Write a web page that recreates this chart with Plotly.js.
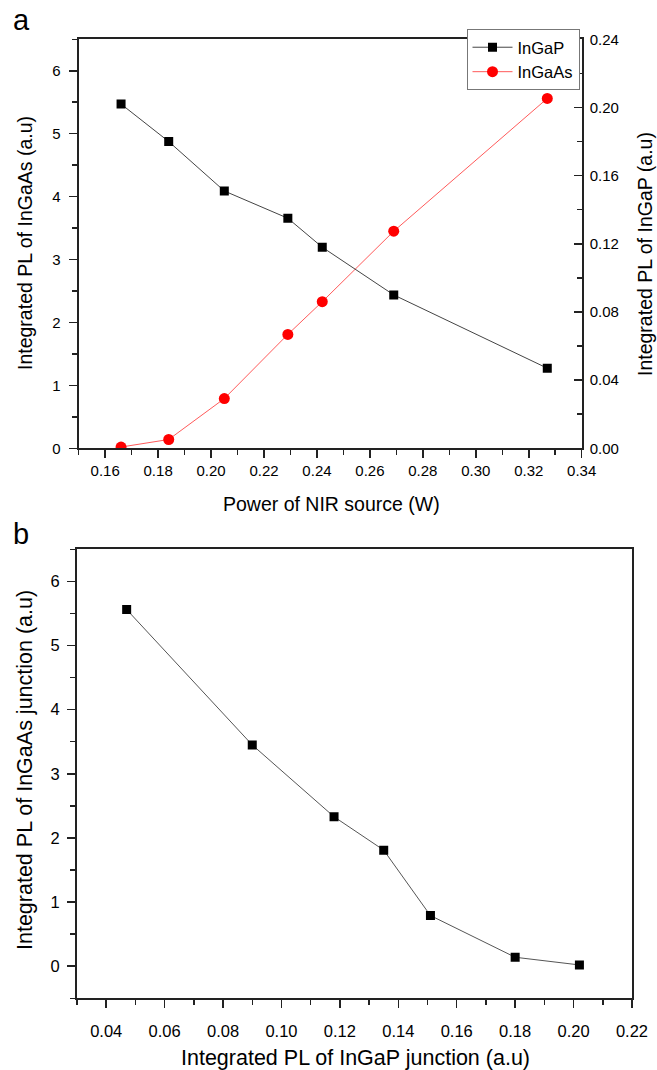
<!DOCTYPE html>
<html>
<head>
<meta charset="utf-8">
<script src="https://cdn.plot.ly/plotly-3.0.1.min.js"></script>
<style>
  html, body { margin: 0; padding: 0; background: #fff; }
  #chart { width: 657px; height: 1070px; }
</style>
</head>
<body>
<div id="chart"></div>
<script>
// Data
const power = [0.166, 0.184, 0.205, 0.229, 0.242, 0.269, 0.327];   // Power of NIR source (W)
const plInGaP = [0.202, 0.180, 0.151, 0.135, 0.118, 0.090, 0.047]; // Integrated PL of InGaP (a.u)
const plInGaAs = [0.02, 0.14, 0.79, 1.81, 2.33, 3.45, 5.56];       // Integrated PL of InGaAs (a.u)
const seriesNames = ["InGaP", "InGaAs"];

const W = 657, H = 1070;
const FONT = "Liberation Sans, Arial, Helvetica, sans-serif";
const AX = "#222";

const traces = [
  {
    x: power, y: plInGaP, name: seriesNames[0], xaxis: "x", yaxis: "y2",
    type: "scatter", mode: "lines+markers",
    line: { color: "#444", width: 1 },
    marker: { symbol: "square", size: 9, color: "#000" }
  },
  {
    x: power, y: plInGaAs, name: seriesNames[1], xaxis: "x", yaxis: "y",
    type: "scatter", mode: "lines+markers",
    line: { color: "#ff5a5a", width: 1 },
    marker: { symbol: "circle", size: 11, color: "#ff0000" }
  },
  {
    x: plInGaP, y: plInGaAs, name: "InGaAs vs InGaP", xaxis: "x2", yaxis: "y3",
    type: "scatter", mode: "lines+markers", showlegend: false,
    line: { color: "#555", width: 1 },
    marker: { symbol: "square", size: 9, color: "#000" }
  }
];

function px(x) { return x / W; }
function py(y) { return 1 - y / H; }

const common = {
  showgrid: false, zeroline: false, showline: true,
  linecolor: AX, linewidth: 2, tickcolor: AX, tickwidth: 1.5,
  ticklen: 8, fixedrange: true
};

const layout = {
  width: W, height: H,
  margin: { l: 0, r: 0, t: 0, b: 0 },
  paper_bgcolor: "#fff", plot_bgcolor: "#fff",
  font: { family: FONT, color: "#000" },
  showlegend: true,
  legend: {
    x: px(579.5), xanchor: "right", y: py(90), yanchor: "bottom",
    bgcolor: "#fff", bordercolor: "#777", borderwidth: 1,
    font: { family: FONT, size: 16.5, color: "#000" },
    tracegroupgap: 0, itemwidth: 40
  },
  xaxis: Object.assign({}, common, {
    domain: [px(78.7), px(581.7)], anchor: "y",
    range: [0.15, 0.34], dtick: 0.02, tick0: 0, tickformat: ".2f",
    ticks: "outside", mirror: true, ticklabelstandoff: 4.5,
    minor: { dtick: 0.01, ticks: "outside", ticklen: 5, tickcolor: AX, tickwidth: 1.5 },
    tickfont: { size: 15, family: FONT, color: "#000" }
  }),
  yaxis: Object.assign({}, common, {
    domain: [py(448.3), py(39.3)], anchor: "x",
    range: [0, 6.5], dtick: 1, tick0: 0,
    ticks: "outside", ticklabelstandoff: 5,
    minor: { dtick: 0.5, ticks: "outside", ticklen: 5, tickcolor: AX, tickwidth: 1.5 },
    tickfont: { size: 15, family: FONT, color: "#000" }
  }),
  yaxis2: Object.assign({}, common, {
    overlaying: "y", side: "right", anchor: "x",
    range: [0, 0.24], dtick: 0.04, tick0: 0, tickformat: ".2f",
    ticks: "inside", ticklabelstandoff: 3,
    minor: { dtick: 0.02, ticks: "inside", ticklen: 5, tickcolor: AX, tickwidth: 1.5 },
    tickfont: { size: 15, family: FONT, color: "#000" }
  }),
  xaxis2: Object.assign({}, common, {
    domain: [px(77), px(632)], anchor: "y3",
    range: [0.03, 0.22], dtick: 0.02, tick0: 0, tickformat: ".2f",
    ticks: "outside", mirror: true, ticklabelstandoff: 9,
    minor: { dtick: 0.01, ticks: "outside", ticklen: 5, tickcolor: AX, tickwidth: 1.5 },
    tickfont: { size: 16.5, family: FONT, color: "#000" }
  }),
  yaxis3: Object.assign({}, common, {
    domain: [py(998.3), py(549.3)], anchor: "x2",
    range: [-0.5, 6.5], dtick: 1, tick0: 0,
    ticks: "outside", mirror: true, ticklabelstandoff: 4,
    minor: { dtick: 0.5, ticks: "outside", ticklen: 5, tickcolor: AX, tickwidth: 1.5 },
    tickfont: { size: 16.5, family: FONT, color: "#000" }
  }),
  annotations: [
    { text: "a", xref: "paper", yref: "paper", x: px(11), y: py(20), xanchor: "left", yanchor: "middle",
      showarrow: false, font: { size: 29, family: FONT, color: "#000" } },
    { text: "b", xref: "paper", yref: "paper", x: px(11), y: py(534), xanchor: "left", yanchor: "middle",
      showarrow: false, font: { size: 29, family: FONT, color: "#000" } },
    { text: "Power of NIR source (W)", xref: "paper", yref: "paper", x: px(331), y: py(504),
      xanchor: "center", yanchor: "middle", showarrow: false,
      font: { size: 19.5, family: FONT, color: "#000" } },
    { text: "Integrated PL of InGaAs (a.u)", xref: "paper", yref: "paper", x: px(25), y: py(243),
      xanchor: "center", yanchor: "middle", textangle: -90, showarrow: false,
      font: { size: 19.5, family: FONT, color: "#000" } },
    { text: "Integrated PL of InGaP (a.u)", xref: "paper", yref: "paper", x: px(645), y: py(254),
      xanchor: "center", yanchor: "middle", textangle: -90, showarrow: false,
      font: { size: 19.5, family: FONT, color: "#000" } },
    { text: "Integrated PL of InGaP junction (a.u)", xref: "paper", yref: "paper", x: px(355), y: py(1058),
      xanchor: "center", yanchor: "middle", showarrow: false,
      font: { size: 21.5, family: FONT, color: "#000" } },
    { text: "Integrated PL of InGaAs junction (a.u)", xref: "paper", yref: "paper", x: px(25), y: py(770),
      xanchor: "center", yanchor: "middle", textangle: -90, showarrow: false,
      font: { size: 21.5, family: FONT, color: "#000" } }
  ]
};

Plotly.newPlot("chart", traces, layout, { displayModeBar: false, staticPlot: true });
</script>
</body>
</html>
